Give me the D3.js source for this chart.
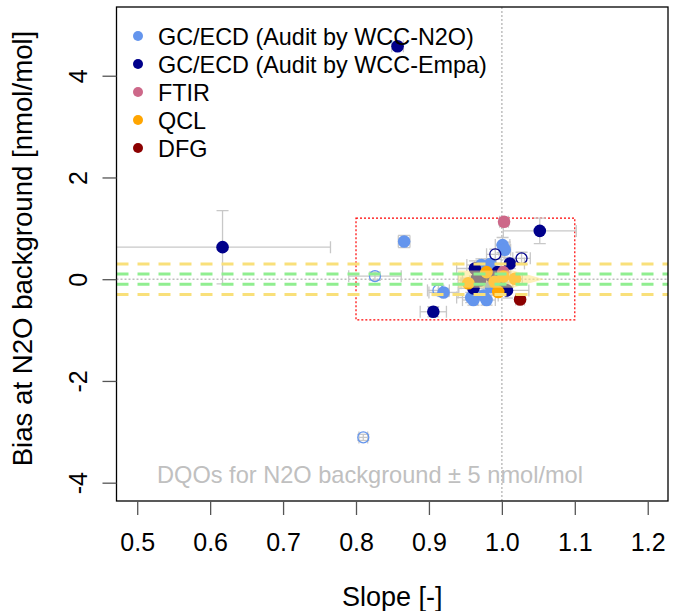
<!DOCTYPE html>
<html>
<head>
<meta charset="utf-8">
<script src="https://cdn.jsdelivr.net/npm/d3@7"></script>
<style>
  body { margin: 0; background: #fff; }
  text { font-family: "Liberation Sans", Arial, sans-serif; }
</style>
</head>
<body>
<svg width="673" height="611"></svg>
<script>
// series names and colours
var seriesNames = ["GC/ECD (Audit by WCC-N2O)", "GC/ECD (Audit by WCC-Empa)", "FTIR", "QCL", "DFG"];
var seriesColors = ["#6495ED", "#00008B", "#CD6889", "#FFA500", "#8B0000"];

// slope, bias, slope error, bias error, open symbol (1) per series
var n2oSlope = [0.826, 0.866, 0.913, 0.92, 0.81, 1.001, 0.972, 0.961, 0.979, 0.975, 1.004, 0.985, 0.984, 0.958];
var n2oBias  = [0.06, 0.74, -0.22, -0.26, -3.11, 0.67, 0.28, -0.41, -0.41, -0.32, 0.58, -0.15, 0.3, -0.36];
var n2oSlopeErr = [0.036, 0.008, 0.015, 0.02, 0.006, 0.01, 0.02, 0.015, 0.012, 0.02, 0.008, 0.02, 0.015, 0.02];
var n2oBiasErr  = [0.08, 0.12, 0.1, 0.08, 0.06, 0.15, 0.12, 0.1, 0.1, 0.1, 0.15, 0.1, 0.1, 0.1];
var n2oOpen = [1, 0, 1, 0, 1, 0, 0, 0, 0, 0, 0, 0, 0, 0];

var empaSlope = [0.857, 0.617, 1.052, 0.906, 0.963, 0.961, 0.986, 1.007, 1.011, 0.991, 1.027, 0.995, 0.97, 0.966, 0.994];
var empaBias  = [4.58, 0.63, 0.95, -0.64, 0.21, -0.18, 0.05, -0.22, 0.31, 0.49, 0.41, -0.06, -0.02, 0.02, 0.14];
var empaSlopeErr = [0.008, 0.148, 0.05, 0.018, 0.025, 0.02, 0.02, 0.03, 0.02, 0.012, 0.012, 0.02, 0.03, 0.02, 0.015];
var empaBiasErr  = [0.06, 0.72, 0.25, 0.1, 0.15, 0.15, 0.1, 0.15, 0.1, 0.1, 0.12, 0.1, 0.12, 0.1, 0.1];
var empaOpen = [0, 0, 0, 0, 0, 0, 0, 0, 0, 1, 1, 0, 0, 0, 0];

var ftirSlope = [1.003, 1.002];
var ftirBias  = [1.13, 0.14];
var ftirSlopeErr = [0.006, 0.01];
var ftirBiasErr  = [0.06, 0.08];

var qclSlope = [0.979, 1.002, 0.954, 0.995, 1.018, 0.99];
var qclBias  = [0.14, 0.05, -0.08, -0.25, 0.01, -0.05];
var qclSlopeErr = [0.01, 0.01, 0.01, 0.01, 0.01, 0.01];
var qclBiasErr  = [0.05, 0.05, 0.05, 0.05, 0.05, 0.05];

var dfgSlope = [1.025];
var dfgBias  = [-0.4];
var dfgSlopeErr = [0.006];
var dfgBiasErr  = [0.04];

// reference lines and target boxes
var innerDqo = [-0.1, 0.1];
var outerDqo = [-0.3, 0.3];
var dqoBoxSlope = [0.8, 1.1];
var dqoBoxBias = [-0.8, 1.2];
var compatArea = [[0.94, 0.17], [1.015, 0.17], [1.058, 0.0], [1.015, -0.17], [0.94, -0.17]];

var xTicks = [0.5, 0.6, 0.7, 0.8, 0.9, 1.0, 1.1, 1.2];
var yTicks = [-4, -2, 0, 2, 4];

var svg = d3.select("svg");
var pLeft = 116.5, pRight = 668, pTop = 7, pBottom = 501;

var x = d3.scaleLinear().domain([0.4716, 1.2278]).range([pLeft, pRight]);
var y = d3.scaleLinear().domain([-4.36, 5.351]).range([pBottom, pTop]);

svg.append("clipPath").attr("id", "plot")
  .append("rect").attr("x", pLeft).attr("y", pTop)
  .attr("width", pRight - pLeft).attr("height", pBottom - pTop);

var g = svg.append("g").attr("clip-path", "url(#plot)");

// dotted reference lines
g.append("line")
  .attr("x1", x(1)).attr("x2", x(1)).attr("y1", pTop).attr("y2", pBottom)
  .attr("stroke", "#bebebe").attr("stroke-width", 1.5).attr("stroke-dasharray", "2,2");
g.append("line")
  .attr("x1", pLeft).attr("x2", pRight).attr("y1", y(0)).attr("y2", y(0))
  .attr("stroke", "#bebebe").attr("stroke-width", 1.5).attr("stroke-dasharray", "2,2");

// DQO box
g.append("rect")
  .attr("x", x(dqoBoxSlope[0])).attr("y", y(dqoBoxBias[1]))
  .attr("width", x(dqoBoxSlope[1]) - x(dqoBoxSlope[0]))
  .attr("height", y(dqoBoxBias[0]) - y(dqoBoxBias[1]))
  .attr("fill", "none").attr("stroke", "#ff0000").attr("stroke-width", 1.2)
  .attr("stroke-dasharray", "2,2");

function series(slope, bias, sErr, bErr, open) {
  return slope.map((d, i) => ({
    x: d, y: bias[i], xe: sErr[i], ye: bErr[i], open: open ? open[i] : 0
  }));
}

var allSeries = [
  series(n2oSlope, n2oBias, n2oSlopeErr, n2oBiasErr, n2oOpen),
  series(empaSlope, empaBias, empaSlopeErr, empaBiasErr, empaOpen),
  series(ftirSlope, ftirBias, ftirSlopeErr, ftirBiasErr),
  series(qclSlope, qclBias, qclSlopeErr, qclBiasErr),
  series(dfgSlope, dfgBias, dfgSlopeErr, dfgBiasErr)
];

// error bars
var cap = 6;
allSeries.forEach((data) => {
  var eb = g.append("g").attr("stroke", "#c8c8c8").attr("stroke-width", 1.3).attr("fill", "none");
  data.forEach((d) => {
    eb.append("line").attr("x1", x(d.x - d.xe)).attr("x2", x(d.x + d.xe)).attr("y1", y(d.y)).attr("y2", y(d.y));
    eb.append("line").attr("x1", x(d.x - d.xe)).attr("x2", x(d.x - d.xe)).attr("y1", y(d.y) - cap).attr("y2", y(d.y) + cap);
    eb.append("line").attr("x1", x(d.x + d.xe)).attr("x2", x(d.x + d.xe)).attr("y1", y(d.y) - cap).attr("y2", y(d.y) + cap);
    eb.append("line").attr("x1", x(d.x)).attr("x2", x(d.x)).attr("y1", y(d.y - d.ye)).attr("y2", y(d.y + d.ye));
    eb.append("line").attr("x1", x(d.x) - cap).attr("x2", x(d.x) + cap).attr("y1", y(d.y - d.ye)).attr("y2", y(d.y - d.ye));
    eb.append("line").attr("x1", x(d.x) - cap).attr("x2", x(d.x) + cap).attr("y1", y(d.y + d.ye)).attr("y2", y(d.y + d.ye));
  });
});

// points
allSeries.forEach((data, k) => {
  g.append("g").selectAll("circle")
    .data(data)
    .enter()
    .append("circle")
    .attr("cx", (d) => x(d.x))
    .attr("cy", (d) => y(d.y))
    .attr("r", (d) => d.open ? 5.5 : 6.3)
    .attr("fill", (d) => d.open ? "none" : seriesColors[k])
    .attr("stroke", (d) => d.open ? seriesColors[k] : "none")
    .attr("stroke-width", 1.3);
});

// compatibility area, drawn over the cluster
g.append("path")
  .attr("d", d3.line().x((d) => x(d[0])).y((d) => y(d[1]))(compatArea) + "Z")
  .attr("fill", "#ffe37f").attr("opacity", 0.55);

// DQO dashed lines
outerDqo.forEach((v) => {
  g.append("line").attr("x1", pLeft).attr("x2", pRight).attr("y1", y(v)).attr("y2", y(v))
    .attr("stroke", "#f9e07a").attr("stroke-width", 3).attr("stroke-dasharray", "12,9");
});
innerDqo.forEach((v) => {
  g.append("line").attr("x1", pLeft).attr("x2", pRight).attr("y1", y(v)).attr("y2", y(v))
    .attr("stroke", "#90ee90").attr("stroke-width", 3).attr("stroke-dasharray", "12,9");
});

// box
svg.append("rect")
  .attr("x", pLeft).attr("y", pTop).attr("width", pRight - pLeft).attr("height", pBottom - pTop)
  .attr("fill", "none").attr("stroke", "#000").attr("stroke-width", 1.3);

// axes
var xAxis = svg.append("g")
  .attr("transform", "translate(0," + pBottom + ")")
  .call(d3.axisBottom(x).tickValues(xTicks).tickFormat(d3.format(".1f")).tickSize(14).tickPadding(18));
xAxis.select(".domain").remove();
xAxis.selectAll("line").attr("stroke", "#555").attr("stroke-width", 1.3);
xAxis.selectAll("text").attr("font-size", "25px").attr("fill", "#000")
  .attr("font-family", "Liberation Sans, Arial, sans-serif");

var yAxis = svg.append("g")
  .attr("transform", "translate(" + pLeft + ",0)")
  .call(d3.axisLeft(y).tickValues(yTicks).tickFormat((d) => d < 0 ? "-" + Math.abs(d) : d).tickSize(14));
yAxis.select(".domain").remove();
yAxis.selectAll("line").attr("stroke", "#555").attr("stroke-width", 1.3);
yAxis.selectAll("text")
  .attr("font-size", "25px").attr("fill", "#000")
  .attr("font-family", "Liberation Sans, Arial, sans-serif")
  .attr("text-anchor", "middle").attr("dy", 0).attr("x", 0)
  .attr("transform", "translate(-30,0) rotate(-90)");

// axis titles
svg.append("text")
  .attr("x", (pLeft + pRight) / 2).attr("y", 606)
  .attr("text-anchor", "middle").attr("font-size", "27px")
  .text("Slope [-]");
svg.append("text")
  .attr("transform", "translate(32,248.5) rotate(-90)")
  .attr("text-anchor", "middle").attr("font-size", "27.6px")
  .text("Bias at N2O background [nmol/mol]");

// DQO note
svg.append("text")
  .attr("x", 370).attr("y", 483)
  .attr("text-anchor", "middle").attr("font-size", "23.6px").attr("fill", "#c0c0c0")
  .text("DQOs for N2O background \u00b1 5 nmol/mol");

// legend
var legend = svg.append("g");
seriesNames.forEach((name, i) => {
  var ly = 36 + i * 28;
  legend.append("circle").attr("cx", 138).attr("cy", ly).attr("r", 5).attr("fill", seriesColors[i]);
  legend.append("text").attr("x", 158).attr("y", ly + 8.5).attr("font-size", "23.4px").text(name);
});
</script>
</body>
</html>
